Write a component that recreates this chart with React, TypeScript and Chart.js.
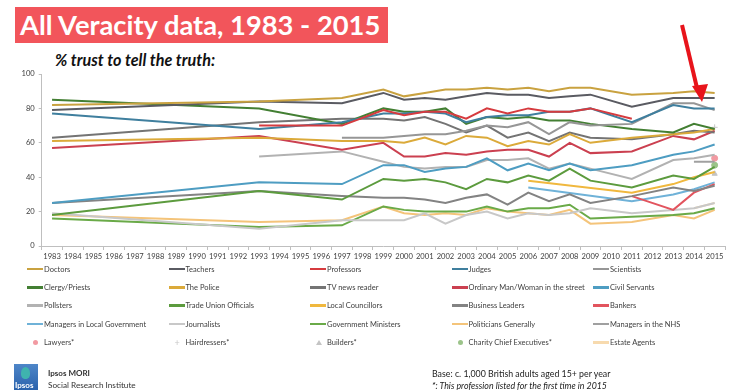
import React, { useEffect, useRef } from "react";
import { Chart, registerables } from "chart.js";
Chart.register(...registerables);

// Axis categories (every year is shown on the axis)
const YEARS = [
  "1983", "1984", "1985", "1986", "1987", "1988", "1989", "1990", "1991", "1992", "1993",
  "1994", "1995", "1996", "1997", "1998", "1999", "2000", "2001", "2002", "2003", "2004",
  "2005", "2006", "2007", "2008", "2009", "2010", "2011", "2012", "2013", "2014", "2015",
];

// Years in which the survey was run
const SURVEY_YEARS = [
  "1983", "1993", "1997", "1999", "2000", "2001", "2002", "2003", "2004",
  "2005", "2006", "2007", "2008", "2009", "2011", "2013", "2014", "2015",
];

const Y_TICKS = [0, 20, 40, 60, 80, 100];

// % trusting each profession to tell the truth (one value per survey year)
const DOCTORS = [82, 84, 86, 91, 87, 89, 91, 91, 92, 91, 92, 90, 92, 92, 88, 89, 90, 89];
const TEACHERS = [79, 84, 83, 89, 85, 86, 85, 87, 89, 88, 88, 86, 87, 88, 81, 86, 86, 86];
const PROFESSORS = [null, 70, 70, 79, 76, 78, 78, 74, 80, 77, 80, 78, 78, 80, 74, null, null, null];
const JUDGES = [77, 68, 72, 77, 77, 78, 77, 72, 75, 76, 76, 78, 78, 80, 72, 82, 80, 80];
const SCIENTISTS = [null, null, 63, 63, 64, 65, 65, 67, 70, 69, 72, 65, 72, 70, 71, 83, 83, 79];
const CLERGY = [85, 80, 71, 80, 78, 78, 80, 71, 75, 74, 75, 73, 73, 71, 68, 66, 71, 68];
const POLICE = [61, 63, 61, 61, 60, 63, 59, 64, 63, 58, 61, 59, 65, 60, 63, 65, 66, 68];
const TV_NEWS = [63, 72, 74, 74, 73, 75, 71, 66, 70, 63, 66, 61, 66, 63, 62, 65, 67, 66];
const ORDINARY = [57, 64, 56, 60, 52, 52, 54, 53, 55, 56, 56, 52, 60, 54, 55, 64, 62, 67];
const CIVIL_SERVANTS = [25, 37, 36, 47, 47, 43, 45, 46, 51, 44, 48, 44, 48, 44, 47, 53, 55, 59];
const POLLSTERS = [null, 52, 55, 49, 46, 45, 46, 46, 50, 50, 51, 45, 48, 45, 39, 50, 51, 53];
const TRADE_UNION = [18, 32, 27, 39, 38, 39, 37, 33, 39, 37, 41, 38, 45, 38, 34, 41, 39, 46];
const LOCAL_COUNCILLORS = [null, null, null, null, null, null, null, null, null, null, 38, null, null, null, 31, 36, 40, 43];
const BUSINESS_LEADERS = [25, 32, 29, 28, 28, 27, 25, 28, 30, 24, 31, 26, 30, 25, 29, 34, 32, 35];
const BANKERS = [null, null, null, null, null, null, null, null, null, null, null, null, null, null, 29, 21, 31, 36];
const MANAGERS_LG = [null, null, null, null, null, null, null, null, null, null, 34, null, null, null, 26, 30, 33, 37];
const JOURNALISTS = [19, 10, 15, 15, 15, 19, 13, 18, 20, 16, 19, 18, 19, 22, 19, 21, 22, 25];
const GOV_MINISTERS = [16, 11, 12, 23, 21, 20, 20, 20, 23, 20, 22, 22, 24, 16, 17, 18, 19, 22];
const POLITICIANS = [18, 14, 15, 23, 19, 18, 19, 18, 22, 20, 19, 18, 21, 13, 14, 18, 16, 21];
const MANAGERS_NHS = [null, null, null, null, null, null, null, null, null, null, null, null, null, null, null, null, 49, 49];
const LAWYERS = [null, null, null, null, null, null, null, null, null, null, null, null, null, null, null, null, null, 51];
const HAIRDRESSERS = [null, null, null, null, null, null, null, null, null, null, null, null, null, null, null, null, null, 69];
const BUILDERS = [null, null, null, null, null, null, null, null, null, null, null, null, null, null, null, null, null, 42];
const CHARITY_CEOS = [null, null, null, null, null, null, null, null, null, null, null, null, null, null, null, null, null, 47];
const ESTATE_AGENTS = [null, null, null, null, null, null, null, null, null, null, null, null, null, null, null, null, 22, 25];

type Series = { label: string; values: (number | null)[]; color: string; kind: "line" | "circle" | "cross" | "triangle" };

// Legend order (5 columns, row by row)
const SERIES: Series[] = [
  { label: "Doctors", values: DOCTORS, color: "#C9A240", kind: "line" },
  { label: "Teachers", values: TEACHERS, color: "#5A5B62", kind: "line" },
  { label: "Professors", values: PROFESSORS, color: "#D63B3F", kind: "line" },
  { label: "Judges", values: JUDGES, color: "#3F7F9E", kind: "line" },
  { label: "Scientists", values: SCIENTISTS, color: "#969696", kind: "line" },
  { label: "Clergy/Priests", values: CLERGY, color: "#437F33", kind: "line" },
  { label: "The Police", values: POLICE, color: "#DBAA3A", kind: "line" },
  { label: "TV news reader", values: TV_NEWS, color: "#747474", kind: "line" },
  { label: "Ordinary Man/Woman in the street", values: ORDINARY, color: "#CB4050", kind: "line" },
  { label: "Civil Servants", values: CIVIL_SERVANTS, color: "#4E9DC2", kind: "line" },
  { label: "Pollsters", values: POLLSTERS, color: "#B2B2B2", kind: "line" },
  { label: "Trade Union Officials", values: TRADE_UNION, color: "#5C9B3E", kind: "line" },
  { label: "Local Councillors", values: LOCAL_COUNCILLORS, color: "#F0B83E", kind: "line" },
  { label: "Business Leaders", values: BUSINESS_LEADERS, color: "#838383", kind: "line" },
  { label: "Bankers", values: BANKERS, color: "#E2545E", kind: "line" },
  { label: "Managers in Local Government", values: MANAGERS_LG, color: "#6FB2D8", kind: "line" },
  { label: "Journalists", values: JOURNALISTS, color: "#C8C8C8", kind: "line" },
  { label: "Government Ministers", values: GOV_MINISTERS, color: "#6AAA48", kind: "line" },
  { label: "Politicians Generally", values: POLITICIANS, color: "#F4C47A", kind: "line" },
  { label: "Managers in the NHS", values: MANAGERS_NHS, color: "#A0A0A0", kind: "line" },
  { label: "Lawyers*", values: LAWYERS, color: "#F29AA2", kind: "circle" },
  { label: "Hairdressers*", values: HAIRDRESSERS, color: "#C8C8C8", kind: "cross" },
  { label: "Builders*", values: BUILDERS, color: "#C4C4C4", kind: "triangle" },
  { label: "Charity Chief Executives*", values: CHARITY_CEOS, color: "#9CC48A", kind: "circle" },
  { label: "Estate Agents", values: ESTATE_AGENTS, color: "#F7DAAE", kind: "line" },
];

const FONT = "Lato, 'Open Sans', sans-serif";

function LegendSwatch({ s }: { s: Series }) {
  if (s.kind === "line") {
    return <span style={{ display: "inline-block", width: 16, height: 2.5, background: s.color, marginRight: 1, verticalAlign: "middle" }} />;
  }
  if (s.kind === "circle") {
    return (
      <span style={{ display: "inline-block", width: 17, textAlign: "center", verticalAlign: "middle", lineHeight: 0 }}>
        <span style={{ display: "inline-block", width: 5, height: 5, borderRadius: 3, background: s.color }} />
      </span>
    );
  }
  if (s.kind === "cross") {
    return (
      <span style={{ display: "inline-block", width: 17, textAlign: "center", verticalAlign: "middle", color: s.color, fontSize: 9, lineHeight: "9px" }}>+</span>
    );
  }
  return (
    <span style={{ display: "inline-block", width: 17, textAlign: "center", verticalAlign: "middle", lineHeight: 0 }}>
      <span style={{ display: "inline-block", width: 0, height: 0, borderLeft: "3px solid transparent", borderRight: "3px solid transparent", borderBottom: `5px solid ${s.color}` }} />
    </span>
  );
}

export default function App() {
  const canvasRef = useRef<HTMLCanvasElement | null>(null);

  useEffect(() => {
    if (!canvasRef.current) return;
    const datasets = SERIES.map((s) => {
      const data = SURVEY_YEARS.map((yr, i) => (s.values[i] == null ? null : { x: yr, y: s.values[i] as number })).filter(
        (d) => d !== null
      ) as { x: string; y: number }[];
      const isLine = s.kind === "line";
      return {
        label: s.label,
        data,
        borderColor: s.color,
        backgroundColor: s.color,
        borderWidth: isLine ? 2 : 1,
        showLine: isLine,
        pointRadius: isLine ? 0 : 3,
        pointStyle: s.kind === "cross" ? "cross" : s.kind === "triangle" ? "triangle" : "circle",
        tension: 0,
      };
    });
    const chart = new Chart(canvasRef.current, {
      type: "line",
      data: { labels: YEARS, datasets: datasets as any },
      options: {
        animation: false,
        responsive: false,
        events: [],
        layout: { padding: { top: 14, right: 11, left: 0, bottom: 0 } },
        plugins: { legend: { display: false }, tooltip: { enabled: false } },
        scales: {
          x: {
            type: "category",
            offset: true,
            grid: { offset: true, drawOnChartArea: false, drawTicks: true, tickLength: 4, color: "#BFBFBF" },
            border: { color: "#BFBFBF" },
            ticks: {
              autoSkip: false,
              maxRotation: 0,
              minRotation: 0,
              padding: 2,
              color: "#404040",
              font: { family: FONT, size: 7.6 },
            },
            afterFit: (s: any) => {
              s.height = 24;
            },
          },
          y: {
            min: 0,
            max: 100,
            afterBuildTicks: (s: any) => {
              s.ticks = Y_TICKS.map((v) => ({ value: v }));
            },
            grid: { drawOnChartArea: false, drawTicks: true, tickLength: 3, color: "#BFBFBF" },
            border: { color: "#BFBFBF" },
            ticks: { padding: 4, color: "#404040", font: { family: FONT, size: 7.6 } },
            afterFit: (s: any) => {
              s.width = 41.7;
            },
          },
        },
      },
    });
    return () => chart.destroy();
  }, []);

  const rows: Series[][] = [];
  for (let i = 0; i < SERIES.length; i += 5) rows.push(SERIES.slice(i, i + 5));

  return (
    <div style={{ position: "absolute", left: 0, top: 0, width: 736, height: 390, background: "#fff", overflow: "hidden", fontFamily: FONT }}>
      <div
        style={{
          position: "absolute", left: 15, top: 7, width: 373, height: 36, background: "#F2555B", color: "#fff",
          fontWeight: 700, fontSize: 27.3, lineHeight: "36px", paddingLeft: 5, boxSizing: "border-box", whiteSpace: "nowrap",
        }}
      >
        All Veracity data, 1983 - 2015
      </div>
      <div style={{ position: "absolute", left: 55, top: 50, fontWeight: 700, fontStyle: "italic", fontSize: 16.2, lineHeight: "20px", color: "#111", whiteSpace: "nowrap" }}>
        % trust to tell the truth:
      </div>
      <div style={{ position: "absolute", left: 0, top: 60, width: 736, height: 210 }}>
        <canvas ref={canvasRef} width={736} height={210} style={{ display: "block" }} />
      </div>
      <div style={{ position: "absolute", left: 27, top: 260 }}>
        {rows.map((row, r) => (
          <div key={r} style={{ display: "flex", height: 18.3, alignItems: "center" }}>
            {row.map((s) => (
              <div key={s.label} style={{ width: 141.5, display: "flex", alignItems: "center", fontSize: 7.5, color: "#404040", whiteSpace: "nowrap" }}>
                <LegendSwatch s={s} />
                <span>{s.label}</span>
              </div>
            ))}
          </div>
        ))}
      </div>
      <svg style={{ position: "absolute", left: 0, top: 0 }} width={736} height={390}>
        <line x1={682} y1={25} x2={697} y2={88} stroke="#E8141B" strokeWidth={4} />
        <polygon points="692,86 708,84 702,102" fill="#E8141B" />
      </svg>
      <div style={{ position: "absolute", left: 14, top: 364, width: 24, height: 26, background: "linear-gradient(#4E86C8, #2A62AC)", overflow: "hidden" }}>
        <div style={{ position: "absolute", left: 7, top: 3, width: 9, height: 12, borderRadius: "50% 50% 40% 40%", background: "#3FB4AE" }} />
        <div style={{ position: "absolute", left: 1, bottom: 0, fontSize: 8, color: "#fff", fontWeight: 700, lineHeight: "10px" }}>Ipsos</div>
      </div>
      <div style={{ position: "absolute", left: 48, top: 367, fontSize: 8, fontWeight: 700, color: "#333", lineHeight: "12px" }}>Ipsos MORI</div>
      <div style={{ position: "absolute", left: 48, top: 379, fontSize: 8.2, color: "#333", lineHeight: "12px" }}>Social Research Institute</div>
      <div style={{ position: "absolute", left: 432, top: 368, fontSize: 8.8, color: "#222", lineHeight: "12px", whiteSpace: "nowrap" }}>
        Base: c. 1,000 British adults aged 15+ per year
      </div>
      <div style={{ position: "absolute", left: 432, top: 380, fontSize: 8.8, fontStyle: "italic", color: "#222", lineHeight: "12px", whiteSpace: "nowrap" }}>
        *: This profession listed for the first time in 2015
      </div>
    </div>
  );
}
